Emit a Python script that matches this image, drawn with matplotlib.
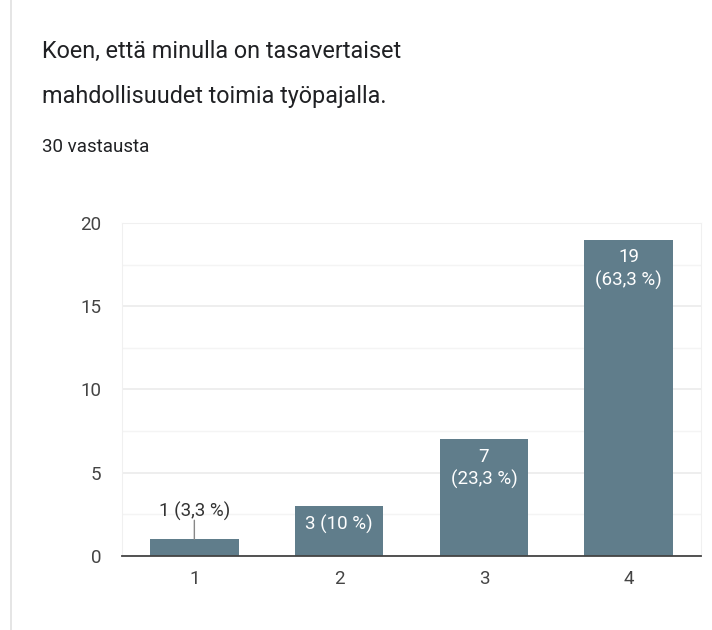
import numpy as np
import matplotlib.pyplot as plt
from matplotlib.lines import Line2D

plt.rcParams['font.family'] = ['Roboto', 'DejaVu Sans']

# data
categories = ['1', '2', '3', '4']
counts = [1, 3, 7, 19]
labels = ['1 (3,3 %)', '3 (10 %)', '7\n(23,3 %)', '19\n(63,3 %)']
label_inside = [False, True, True, True]

title_lines = ['Koen, että minulla on tasavertaiset',
               'mahdollisuudet toimia työpajalla.']
subtitle = '30 vastausta'

bar_color = '#607d8b'

fig = plt.figure(figsize=(7.12, 6.3), dpi=100)
ax = fig.add_axes([0.1713, 0.1175, 0.8133, 0.5286])

x = np.arange(len(categories))
bars = ax.bar(x, counts, width=0.61, color=bar_color, zorder=3)

ax.set_xlim(-0.5, len(categories) - 0.5)
ax.set_ylim(0, 20)
ax.set_yticks([0, 5, 10, 15, 20])
ax.set_yticks([2.5, 7.5, 12.5, 17.5], minor=True)
ax.set_xticks(x)
ax.set_xticklabels(categories)

ax.grid(axis='y', which='major', color='#ebebeb', linewidth=1.2, zorder=0)
ax.grid(axis='y', which='minor', color='#f4f4f4', linewidth=1.0, zorder=0)
ax.tick_params(axis='both', which='both', length=0, labelsize=13.5, labelcolor='#444444')
ax.tick_params(axis='y', pad=15)
ax.tick_params(axis='x', pad=10)

for side in ['left', 'right', 'top']:
    ax.spines[side].set_color('#f0f0f0')
ax.spines['bottom'].set_color('#444444')
ax.spines['bottom'].set_linewidth(1.3)
ax.spines['bottom'].set_zorder(4)

# bar labels
for xi, c, lab, inside in zip(x, counts, labels, label_inside):
    if inside:
        ax.annotate(lab, (xi, c), xytext=(0, -6), textcoords='offset points',
                    ha='center', va='top', color='white', fontsize=13.5,
                    linespacing=1.3, zorder=5)
    else:
        ax.annotate(lab, (xi, c), xytext=(0, 16), textcoords='offset points',
                    ha='center', va='baseline', color='#333333', fontsize=13.5,
                    zorder=5)
        ax.annotate('', (xi, c), xytext=(0, 13.7), textcoords='offset points',
                    arrowprops=dict(arrowstyle='-', color='#888888', lw=1,
                                    shrinkA=0, shrinkB=0), zorder=5)

# titles
fig.text(0.059, 0.9084, title_lines[0], fontsize=16.8, color='#202124',
         ha='left', va='baseline')
fig.text(0.059, 0.8365, title_lines[1], fontsize=16.8, color='#202124',
         ha='left', va='baseline')
fig.text(0.059, 0.758, subtitle, fontsize=13.5, color='#202124', ha='left',
         va='baseline')

# left card border
fig.add_artist(Line2D([0.0155, 0.0155], [0, 1], color='#e0e0e0', lw=1.2))

plt.savefig('out.png', dpi=100, facecolor='white')
